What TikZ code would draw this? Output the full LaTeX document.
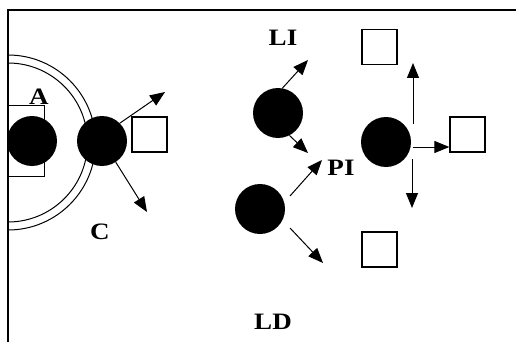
\documentclass[tikz,border=0pt]{standalone}
\usepackage{fontspec}
\setmainfont[FakeStretch=1.15]{Liberation Serif}
\usetikzlibrary{arrows.meta}
\begin{document}
\begin{tikzpicture}[x=1pt,y=-1pt,
  ball/.style={circle,fill=black,minimum size=50pt,inner sep=0pt},
  sq/.style={draw=black,line width=1.3pt,fill=white,minimum size=35pt,inner sep=0pt},
  arr/.style={line width=1pt,-{Triangle[length=15pt,width=12pt]}},
  lbl/.style={font=\fontsize{23.5}{23.5}\selectfont\bfseries,inner sep=0pt}]
\useasboundingbox (0,0) rectangle (516,342);
\fill[white] (0,0) rectangle (516,342);
% frame
\draw[line width=1.2pt] (8,342) -- (8,10) -- (516,10);
% double arc
\draw[line width=1pt] (8,55) arc[start angle=-90,end angle=90,radius=87.5];
\draw[line width=1pt] (8,63) arc[start angle=-90,end angle=90,radius=79.5];
% rectangle A
\node[draw=black,line width=1pt,minimum width=36pt,minimum height=71pt,inner sep=0pt,anchor=north west] (ra) at (8,105) {};
\node[lbl,anchor=base] (la) at (39,105) {A};
% circles
\node[ball] (c1) at (32,141) {};
\node[ball] (c2) at (102,141) {};
\node[ball] (c3) at (278,113) {};
\node[ball] (c4) at (260,209) {};
\node[ball] (c5) at (386,142) {};
% squares
\node[sq] (s1) at (149.5,134.5) {};
\node[sq] (s2) at (379.5,47) {};
\node[sq] (s3) at (467.5,134.5) {};
\node[sq] (s4) at (379.5,249.5) {};
% labels
\node[lbl] (lc) at (100,232) {C};
\node[lbl] (lli) at (283,38) {LI};
\node[lbl] (lpi) at (341,168) {PI};
\node[lbl] (lld) at (273,322) {LD};
% arrow ends
\coordinate (t1) at (165,92);
\coordinate (t2) at (147,212);
\coordinate (t3) at (308,60);
\coordinate (t4) at (308,153);
\coordinate (t5) at (322,160);
\coordinate (t6) at (323,263);
\coordinate (t7) at (413,63);
\coordinate (t8) at (412,208);
\coordinate (u4a) at (290,196);
\coordinate (u4b) at (290,228);
\coordinate (u5a) at (413,124);
\coordinate (u5b) at (413,147);
\coordinate (u5c) at (412,159);
% arrows
\draw[arr] (c2.45) -- (t1);
\draw[arr] (c2.-57) -- (t2);
\draw[arr] (c3.80) -- (t3);
\draw[arr] (c3.-63) -- (t4);
\draw[arr] (u4a) -- (t5);
\draw[arr] (u4b) -- (t6);
\draw[arr] (u5a) -- (t7);
\draw[arr] (u5b) -- (s3.west |- u5b);
\draw[arr] (u5c) -- (t8);
\end{tikzpicture}
\end{document}
